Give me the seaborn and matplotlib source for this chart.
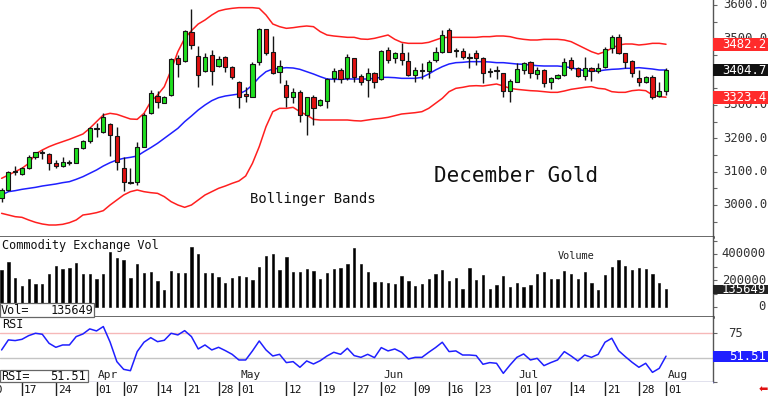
import numpy as np
import pandas as pd
import matplotlib
matplotlib.use("Agg")
import matplotlib.pyplot as plt
import matplotlib.transforms as mtransforms
from matplotlib.patches import Rectangle
import seaborn as sns

# ---------------- data ----------------
opens = [3020, 3045, 3101, 3093, 3110, 3143, 3160, 3153, 3127, 3118,
         3126, 3125, 3170, 3193, 3232, 3220, 3243, 3208, 3110, 3069,
         3070, 3175, 3275, 3327, 3307, 3330, 3440, 3432, 3518, 3447,
         3403, 3450, 3417, 3443, 3415, 3370, 3332, 3325, 3430, 3527,
         3460, 3400, 3360, 3323, 3340, 3270, 3325, 3300, 3312, 3380,
         3405, 3380, 3440, 3387, 3375, 3397, 3377, 3465, 3440, 3455,
         3433, 3390, 3405, 3402, 3435, 3460, 3525, 3463, 3463, 3445,
         3457, 3440, 3400, 3404, 3397, 3343, 3370, 3405, 3430, 3393,
         3405, 3370, 3380, 3390, 3435, 3410, 3387, 3412, 3402, 3415,
         3470, 3503, 3457, 3432, 3380, 3370, 3385, 3328, 3343]
highs = [3050, 3103, 3118, 3115, 3150, 3160, 3165, 3155, 3135, 3143,
         3135, 3172, 3195, 3235, 3245, 3275, 3245, 3235, 3143, 3110,
         3190, 3275, 3345, 3343, 3327, 3440, 3450, 3525, 3587, 3477,
         3457, 3465, 3447, 3447, 3418, 3372, 3355, 3430, 3530, 3527,
         3507, 3435, 3375, 3350, 3345, 3325, 3330, 3317, 3380, 3410,
         3410, 3453, 3440, 3393, 3410, 3400, 3465, 3475, 3460, 3485,
         3460, 3415, 3425, 3435, 3475, 3525, 3532, 3470, 3470, 3455,
         3465, 3443, 3410, 3417, 3397, 3377, 3425, 3430, 3433, 3415,
         3407, 3385, 3393, 3440, 3443, 3415, 3443, 3415, 3425, 3475,
         3510, 3512, 3457, 3435, 3405, 3387, 3390, 3370, 3410]
lows = [3010, 3043, 3090, 3090, 3108, 3137, 3137, 3105, 3110, 3115,
        3120, 3125, 3168, 3185, 3205, 3215, 3147, 3105, 3043, 3062,
        3060, 3175, 3273, 3290, 3305, 3327, 3383, 3430, 3467, 3355,
        3400, 3360, 3415, 3400, 3377, 3290, 3310, 3325, 3420, 3450,
        3393, 3365, 3295, 3307, 3250, 3210, 3240, 3297, 3290, 3370,
        3365, 3375, 3370, 3360, 3325, 3350, 3375, 3425, 3425, 3420,
        3387, 3370, 3377, 3380, 3430, 3457, 3458, 3445, 3437, 3410,
        3420, 3365, 3383, 3378, 3323, 3310, 3370, 3393, 3380, 3378,
        3353, 3347, 3377, 3387, 3405, 3383, 3375, 3373, 3397, 3410,
        3455, 3453, 3410, 3383, 3357, 3367, 3318, 3323, 3330]
closes = [3045, 3100, 3099, 3110, 3145, 3158, 3157, 3127, 3118, 3128,
          3128, 3170, 3192, 3232, 3229, 3263, 3210, 3128, 3070, 3066,
          3175, 3270, 3337, 3310, 3325, 3437, 3423, 3522, 3480, 3390,
          3443, 3403, 3437, 3415, 3383, 3325, 3328, 3423, 3527, 3457,
          3397, 3417, 3323, 3340, 3270, 3325, 3290, 3315, 3377, 3402,
          3378, 3443, 3385, 3370, 3395, 3370, 3463, 3435, 3455, 3435,
          3390, 3405, 3402, 3430, 3460, 3510, 3460, 3465, 3443, 3442,
          3440, 3395, 3403, 3401, 3343, 3373, 3407, 3425, 3395, 3405,
          3365, 3380, 3390, 3428, 3410, 3387, 3410, 3403, 3412, 3467,
          3503, 3457, 3430, 3397, 3370, 3383, 3325, 3343, 3404.7]
bb_upper = [3080, 3090, 3100, 3110, 3125, 3153, 3165, 3175, 3183, 3190,
            3197, 3205, 3213, 3230, 3250, 3270, 3275, 3272, 3265, 3258,
            3257, 3275, 3310, 3330, 3355, 3405, 3460, 3500, 3523, 3543,
            3555, 3570, 3582, 3587, 3590, 3592, 3592, 3592, 3590, 3570,
            3543, 3535, 3530, 3532, 3535, 3537, 3535, 3520, 3510, 3507,
            3505, 3503, 3503, 3498, 3497, 3500, 3505, 3510, 3497, 3488,
            3485, 3485, 3485, 3488, 3495, 3502, 3503, 3503, 3503, 3503,
            3503, 3505, 3505, 3507, 3507, 3505, 3500, 3497, 3495, 3495,
            3497, 3497, 3497, 3495, 3490, 3480, 3470, 3460, 3453, 3460,
            3470, 3480, 3483, 3483, 3480, 3482, 3485, 3485, 3482.2]
bb_mid = [3030, 3040, 3043, 3047, 3050, 3053, 3057, 3060, 3063, 3067,
          3070, 3077, 3085, 3095, 3105, 3117, 3127, 3135, 3140, 3143,
          3147, 3160, 3172, 3185, 3200, 3215, 3230, 3250, 3267, 3285,
          3300, 3313, 3322, 3327, 3330, 3333, 3343, 3360, 3383, 3400,
          3408, 3410, 3412, 3411, 3407, 3400, 3393, 3385, 3378, 3377,
          3377, 3378, 3378, 3378, 3378, 3380, 3383, 3383, 3382, 3380,
          3380, 3380, 3383, 3393, 3405, 3415, 3423, 3427, 3428, 3430,
          3430, 3430, 3429, 3427, 3427, 3425, 3423, 3422, 3420, 3418,
          3417, 3417, 3417, 3415, 3412, 3407, 3403, 3402, 3402, 3405,
          3407, 3408, 3410, 3410, 3412, 3410, 3408, 3405, 3405]
bb_lower = [2975, 2970, 2965, 2963, 2955, 2948, 2943, 2940, 2940, 2942,
            2947, 2955, 2970, 2973, 2977, 2983, 3000, 3015, 3030, 3040,
            3045, 3040, 3037, 3035, 3025, 3010, 3000, 2993, 3000, 3015,
            3030, 3040, 3050, 3057, 3065, 3072, 3087, 3125, 3175, 3235,
            3280, 3290, 3290, 3293, 3280, 3270, 3257, 3255, 3255, 3255,
            3255, 3255, 3253, 3252, 3255, 3258, 3260, 3263, 3268, 3273,
            3275, 3277, 3280, 3290, 3305, 3320, 3340, 3350, 3353, 3357,
            3358, 3357, 3360, 3363, 3357, 3350, 3347, 3345, 3343, 3342,
            3340, 3338, 3338, 3342, 3347, 3350, 3353, 3355, 3350, 3348,
            3340, 3338, 3338, 3343, 3345, 3343, 3330, 3325, 3323.4]
volume = [279000, 337000, 216000, 161000, 209000, 171000, 171000, 247000, 309000, 284000,
          297000, 330000, 247000, 247000, 211000, 247000, 413000, 372000, 358000, 216000,
          322000, 254000, 267000, 196000, 128000, 274000, 259000, 259000, 453000, 398000,
          254000, 254000, 229000, 179000, 216000, 232000, 229000, 204000, 304000, 385000,
          400000, 279000, 375000, 267000, 267000, 287000, 272000, 211000, 259000, 284000,
          292000, 322000, 443000, 326000, 262000, 191000, 191000, 179000, 171000, 234000,
          196000, 161000, 171000, 211000, 247000, 279000, 196000, 216000, 133000, 292000,
          204000, 242000, 136000, 166000, 234000, 148000, 184000, 148000, 166000, 249000,
          267000, 211000, 211000, 274000, 249000, 209000, 267000, 184000, 128000, 242000,
          304000, 355000, 309000, 279000, 292000, 287000, 249000, 179000, 135649]
rsi = [57.9, 68.2, 67.5, 68.8, 72.6, 75.0, 74.0, 64.7, 60.6, 63.0,
       63.0, 71.6, 74.3, 79.5, 77.4, 81.9, 66.0, 45.9, 38.0, 36.6,
       56.2, 65.8, 70.5, 66.4, 67.8, 75.0, 73.3, 77.7, 71.6, 58.9,
       63.0, 57.9, 60.6, 57.2, 53.4, 47.6, 47.6, 56.9, 67.1, 57.9,
       51.7, 53.4, 44.9, 45.9, 40.1, 46.6, 43.5, 46.9, 51.7, 55.5,
       53.4, 59.6, 52.1, 50.3, 53.4, 50.0, 60.3, 56.9, 58.9, 55.5,
       48.6, 50.3, 50.3, 55.5, 60.3, 65.8, 56.2, 56.9, 52.7, 52.7,
       52.1, 43.2, 44.9, 44.2, 33.9, 42.5, 50.3, 53.8, 47.6, 49.3,
       41.8, 44.9, 47.6, 56.2, 51.7, 46.6, 52.7, 50.3, 53.4, 65.8,
       69.9, 57.2, 51.0, 45.2, 40.1, 44.2, 34.9, 39.0, 51.51]

date_tick_idx = [-2, 3, 8, 14, 18, 23, 27, 32, 35, 42, 47, 52, 56, 61, 66, 70, 76, 79, 84, 89, 94, 98]
date_tick_labels = ["10", "17", "24", "01", "07", "14", "21", "28", "01", "12", "19",
                    "27", "02", "09", "16", "23", "01", "07", "14", "21", "28", "01"]
month_idx = [14, 35, 56, 76, 98]
month_labels = ["Apr", "May", "Jun", "Jul", "Aug"]
price_labels = [3600, 3500, 3400, 3300, 3200, 3100, 3000]
vol_labels = [400000, 200000, 0]
rsi_labels = [75]

# ---------------- style ----------------
sns.set_theme(style="white")
plt.rcParams['font.family'] = ['DejaVu Sans Mono', 'DejaVu Sans']

W, H = 768, 396
fig = plt.figure(figsize=(W / 100, H / 100), dpi=100)
fig.patch.set_facecolor("white")


def rect(l, t, r, b):
    return [l / W, 1 - b / H, (r - l) / W, (b - t) / H]


def ftext(x, y, s, **kw):
    return fig.text(x / W, 1 - y / H, s, **kw)


ax_p = fig.add_axes(rect(0, 0, 713, 237))
ax_v = fig.add_axes(rect(0, 237, 713, 317))
ax_r = fig.add_axes(rect(0, 317, 713, 382))
ax_d = fig.add_axes(rect(0, 382, 713, 396))

XMIN, XMAX = -0.236, 104.93
for ax in (ax_p, ax_v, ax_r, ax_d):
    ax.set_xlim(XMIN, XMAX)
    ax.set_facecolor("white")
    ax.set_xticks([])
    for s in ("left", "top"):
        ax.spines[s].set_visible(False)
    ax.spines["right"].set_color("#555555")
    ax.spines["right"].set_linewidth(1.0)
ax_d.spines["right"].set_visible(False)
ax_d.spines["bottom"].set_visible(False)
ax_d.set_yticks([])

df = pd.DataFrame(dict(i=np.arange(len(closes)), o=opens, h=highs, l=lows, c=closes,
                       up=bb_upper, mid=bb_mid, lo=bb_lower, vol=volume, rsi=rsi))

# ---------------- price panel ----------------
ax_p.set_ylim(2904, 3615)
sns.lineplot(data=df, x="i", y="up", ax=ax_p, color="#ff1f1f", linewidth=1.1, zorder=2)
sns.lineplot(data=df, x="i", y="lo", ax=ax_p, color="#ff1f1f", linewidth=1.1, zorder=2)
sns.lineplot(data=df, x="i", y="mid", ax=ax_p, color="#1f1fff", linewidth=1.1, zorder=2)
ax_p.vlines(df.i, df.l, df.h, color="#151515", linewidth=1.0, zorder=3)
rising = df.c >= df.o
body_bottom = np.minimum(df.o, df.c)
body_h = np.maximum(np.abs(df.c - df.o), 2.5)
ax_p.bar(df.i, body_h, bottom=body_bottom, width=0.62,
         color=np.where(rising, "#1fe01f", "#e01010"),
         edgecolor="#151515", linewidth=0.8, zorder=4)
ax_p.spines["bottom"].set_color("#3c3c3c")
ax_p.spines["bottom"].set_linewidth(1.8)
ax_p.yaxis.tick_right()
ax_p.set_yticks(np.arange(2950, 3601, 50))
ax_p.tick_params(axis="y", right=True, left=False, length=3, width=0.8,
                 color="#666666", labelright=False, labelleft=False)
ax_p.set_xlabel("")
ax_p.set_ylabel("")

# ---------------- volume panel ----------------
ax_v.set_ylim(-75470, 528290)
ax_v.bar(df.i, df.vol, width=0.34, color="#000000", edgecolor="#000000",
         linewidth=0.4, zorder=3)
ax_v.spines["bottom"].set_color("#3c3c3c")
ax_v.spines["bottom"].set_linewidth(1.8)
ax_v.yaxis.tick_right()
ax_v.set_yticks(np.arange(0, 500001, 100000))
ax_v.tick_params(axis="y", right=True, left=False, length=3, width=0.8,
                 color="#666666", labelright=False, labelleft=False)
ax_v.set_ylabel("")

# ---------------- RSI panel ----------------
ax_r.set_ylim(25.1, 91.7)
ax_r.axhline(75, color="#f6b8b8", linewidth=1.0, zorder=1)
ax_r.axhline(50, color="#c4c4c4", linewidth=1.0, zorder=1)
sns.lineplot(data=df, x="i", y="rsi", ax=ax_r, color="#1f1fff", linewidth=1.1, zorder=3)
ax_r.spines["bottom"].set_color("#6a6aa6")
ax_r.spines["bottom"].set_linewidth(1.0)
ax_r.yaxis.tick_right()
ax_r.set_yticks([25, 50, 75])
ax_r.tick_params(axis="y", right=True, left=False, length=3, width=0.8,
                 color="#666666", labelright=False, labelleft=False)
ax_r.set_xlabel("")
ax_r.set_ylabel("")
trm = mtransforms.blended_transform_factory(ax_r.transData, ax_r.transAxes)
for mi, ml in zip(month_idx, month_labels):
    ax_r.text(mi + 0.25, 0.1, ml, transform=trm, ha="left", va="center",
              fontsize=8, color="#222222", clip_on=False)

# ---------------- date strip ----------------
ax_d.set_ylim(0, 1)
for ti, tl in zip(date_tick_idx, date_tick_labels):
    ax_d.axvline(ti, color="#222222", linewidth=1.0)
    ax_d.text(ti + 0.3, 0.45, tl, ha="left", va="center", fontsize=8,
              color="#111111", clip_on=True)

# ---------------- right-hand labels ----------------
tp = mtransforms.blended_transform_factory(fig.transFigure, ax_p.transData)
for v in price_labels:
    fig.text(723 / W, v, f"{v:.1f}", transform=tp, ha="left", va="center",
             fontsize=8.8, color="#333333")
tv = mtransforms.blended_transform_factory(fig.transFigure, ax_v.transData)
for v in vol_labels:
    fig.text(766 / W, v, f"{v}", transform=tv, ha="right", va="center",
             fontsize=8.8, color="#333333")
tr = mtransforms.blended_transform_factory(fig.transFigure, ax_r.transData)
for v in rsi_labels:
    fig.text(743 / W, v, f"{v}", transform=tr, ha="right", va="center",
             fontsize=8.8, color="#333333")


def value_box(trans, value, half, text, face):
    fig.patches.append(Rectangle((713 / W, value - half), 55 / W, 2 * half,
                                 transform=trans, facecolor=face, edgecolor="none",
                                 zorder=5, figure=fig))
    fig.text(766 / W, value, text, transform=trans, ha="right", va="center",
             fontsize=8.8, color="white", zorder=6)


value_box(tp, bb_upper[-1], 19, f"{bb_upper[-1]:.1f}", "#ff2b2b")
value_box(tp, closes[-1], 19, f"{closes[-1]:.1f}", "#111111")
value_box(tp, bb_lower[-1], 19, f"{bb_lower[-1]:.1f}", "#ff2b2b")
value_box(tv, volume[-1], 34000, f"{volume[-1]}", "#222222")
value_box(tr, rsi[-1], 5.6, f"{rsi[-1]:.2f}", "#1f1fff")

# ---------------- left-hand labels ----------------
ftext(2, 245, "Commodity Exchange Vol", ha="left", va="center", fontsize=8.6, color="#111111")
fig.patches.append(Rectangle((0, 1 - 317 / H), 94 / W, 14 / H, transform=fig.transFigure,
                             facecolor="white", edgecolor="#666666", linewidth=0.9,
                             zorder=5, figure=fig))
ftext(1, 310, "Vol=", ha="left", va="center", fontsize=8.6, color="#111111", zorder=6)
ftext(93, 310, f"{volume[-1]}", ha="right", va="center", fontsize=8.6, color="#111111", zorder=6)

ftext(2, 325, "RSI", ha="left", va="center", fontsize=8.6, color="#111111")
fig.patches.append(Rectangle((0, 1 - 382 / H), 88 / W, 12 / H, transform=fig.transFigure,
                             facecolor="white", edgecolor="#666666", linewidth=0.9,
                             zorder=5, figure=fig))
ftext(1, 376, "RSI=", ha="left", va="center", fontsize=8.6, color="#111111", zorder=6)
ftext(86, 376, f"{rsi[-1]:.2f}", ha="right", va="center", fontsize=8.6, color="#111111", zorder=6)

ftext(558, 256, "Volume", ha="left", va="center", fontsize=7.4, color="#222222")
ftext(250, 199, "Bollinger Bands", ha="left", va="center", fontsize=10, color="#111111")
ftext(434, 176, "December Gold", ha="left", va="center", fontsize=15, color="#111111")
ftext(763, 390, "\u2b05", ha="center", va="center", fontsize=8, color="#e01010",
      family=["DejaVu Sans"])

fig.savefig("out.png", dpi=100, facecolor="white")
